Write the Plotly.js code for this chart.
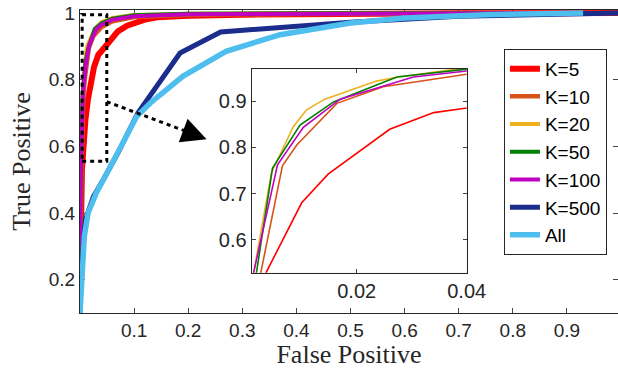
<!DOCTYPE html>
<html><head><meta charset="utf-8">
<script src="https://cdn.plot.ly/plotly-3.0.1.min.js"></script>
<style>html,body{margin:0;padding:0;background:#fff}#c{width:618px;height:369px}</style>
</head><body><div id="c"></div>
<script>
// Series data (False Positive rate, True Positive rate)
const names = ["K=5","K=10","K=20","K=50","K=100","K=500","All"];
const colors = ["#FF0000","#D95319","#EDB120","#008000","#C000C0","#1B2D8C","#4DBEEE"];

const fpK5   = [0, 0.0005, 0.0015, 0.0036, 0.010, 0.0148, 0.026, 0.034, 0.040, 0.052, 0.07, 0.087, 0.12, 0.143, 0.2, 0.3, 0.5, 0.7, 1];
const tpK5   = [0.19, 0.30, 0.42, 0.531, 0.680, 0.742, 0.839, 0.875, 0.886, 0.912, 0.945, 0.962, 0.980, 0.987, 0.992, 0.995, 0.998, 0.999, 1];
const fpK10  = [0, 0.001, 0.0026, 0.0065, 0.0091, 0.0164, 0.0248, 0.04, 0.06, 0.1, 0.2, 0.4, 0.7, 1];
const tpK10  = [0.27, 0.42, 0.531, 0.76, 0.805, 0.895, 0.931, 0.958, 0.975, 0.988, 0.994, 0.997, 0.999, 1];
const fpK20  = [0, 0.0005, 0.0013, 0.0045, 0.0085, 0.0109, 0.0142, 0.0236, 0.0276, 0.04, 0.06, 0.1, 0.2, 0.5, 1];
const tpK20  = [0.30, 0.42, 0.531, 0.745, 0.845, 0.881, 0.904, 0.943, 0.952, 0.972, 0.985, 0.994, 0.998, 0.999, 1];
const fpK50  = [0, 0.0007, 0.0018, 0.0047, 0.0097, 0.0158, 0.0273, 0.04, 0.06, 0.1, 0.2, 0.5, 1];
const tpK50  = [0.30, 0.43, 0.531, 0.755, 0.848, 0.898, 0.952, 0.969, 0.983, 0.993, 0.998, 0.999, 1];
const fpK100 = [0, 0.0005, 0.0013, 0.0056, 0.0103, 0.017, 0.0303, 0.04, 0.06, 0.1, 0.2, 0.5, 1];
const tpK100 = [0.30, 0.42, 0.531, 0.762, 0.843, 0.904, 0.952, 0.965, 0.98, 0.99, 0.996, 0.998, 1];
const fpK500 = [0, 0.003, 0.01, 0.025, 0.043, 0.07, 0.107, 0.185, 0.26, 0.5, 0.7, 0.93, 1];
const tpK500 = [0.10, 0.25, 0.38, 0.45, 0.50, 0.58, 0.70, 0.88, 0.943, 0.972, 0.99, 1, 1];
const fpAll  = [0, 0.004, 0.008, 0.015, 0.03, 0.05, 0.075, 0.105, 0.13, 0.19, 0.27, 0.37, 0.5, 0.6, 0.75, 0.93];
const tpAll  = [0.10, 0.22, 0.33, 0.40, 0.46, 0.52, 0.60, 0.69, 0.73, 0.81, 0.885, 0.935, 0.97, 0.985, 0.995, 1];

const fps = [fpK5, fpK10, fpK20, fpK50, fpK100, fpK500, fpAll];
const tps = [tpK5, tpK10, tpK20, tpK50, tpK100, tpK500, tpAll];
const mainWidths = [6, 4.5, 4, 4, 4, 5, 5.5];
const insetCount = 5; // inset shows K=5..K=100

const xTicks = [0.1,0.2,0.3,0.4,0.5,0.6,0.7,0.8,0.9];
const yTicks = [0.2,0.4,0.6,0.8,1];
const yTickText = ["0.2","0.4","0.6","0.8","1"];
const insetXTicks = [0.02, 0.04];
const insetYTicks = [0.6, 0.7, 0.8, 0.9];

const traces = [];
for (let i = 0; i < names.length; i++) {
  traces.push({x: fps[i], y: tps[i], name: names[i], type: 'scatter', mode: 'lines',
    line: {color: colors[i], width: mainWidths[i]}, xaxis: 'x', yaxis: 'y'});
}
for (let i = 0; i < insetCount; i++) {
  traces.push({x: fps[i], y: tps[i], name: names[i], type: 'scatter', mode: 'lines', showlegend: false,
    line: {color: colors[i], width: 1.6}, xaxis: 'x2', yaxis: 'y2'});
}

const axCol = '#262626';
const layout = {
  width: 618, height: 369,
  margin: {l: 80, r: 0, t: 10, b: 56},
  paper_bgcolor: '#fff', plot_bgcolor: '#fff',
  font: {family: 'Liberation Sans, Arial, sans-serif', color: axCol, size: 19},
  showlegend: true,
  legend: {x: 0.788, y: 0.872, xanchor: 'left', yanchor: 'top', bgcolor: '#fff',
    bordercolor: axCol, borderwidth: 1, font: {size: 19, color: '#000'}, tracegroupgap: 0},
  xaxis: {domain: [0, 1], range: [0, 0.9945], tickvals: xTicks, ticks: 'inside', ticklen: 5,
    showline: true, linecolor: axCol, mirror: 'ticks', showgrid: false, zeroline: false,
    tickfont: {size: 19}, layer: 'below traces',
    title: {text: 'False Positive', font: {family: 'Liberation Serif, Times New Roman, serif', size: 26, color: axCol}, standoff: 4}},
  yaxis: {domain: [0, 1], range: [0.1, 1.009], tickvals: yTicks, ticktext: yTickText, ticks: 'inside', ticklen: 5,
    showline: true, linecolor: axCol, mirror: 'ticks', showgrid: false, zeroline: false,
    tickfont: {size: 19}, layer: 'below traces',
    title: {text: 'True Positive', font: {family: 'Liberation Serif, Times New Roman, serif', size: 26, color: axCol}, standoff: 10}},
  xaxis2: {domain: [0.319, 0.7188], range: [0.0009, 0.04], anchor: 'y2', tickvals: insetXTicks, ticktext: ['0.02','0.04'],
    ticks: 'inside', ticklen: 4, showline: true, linecolor: axCol, mirror: 'ticks', showgrid: false, zeroline: false,
    tickfont: {size: 20}},
  yaxis2: {domain: [0.133, 0.805], range: [0.529, 0.969], anchor: 'x2', tickvals: insetYTicks,
    ticks: 'inside', ticklen: 4, showline: true, linecolor: axCol, mirror: 'ticks', showgrid: false, zeroline: false,
    tickfont: {size: 20}},
  shapes: [
    {type: 'rect', xref: 'x2 domain', yref: 'y2 domain', x0: 0, x1: 1, y0: 0, y1: 1,
      fillcolor: '#DCDCDC', line: {width: 0}, layer: 'below'},
    {type: 'rect', xref: 'x', yref: 'y', x0: 0.004, x1: 0.0495, y0: 0.555, y1: 0.995,
      line: {color: '#000', width: 3, dash: '4px,4px'}},
    {type: 'line', xref: 'x', yref: 'y', x0: 0.0495, y0: 0.734, x1: 0.196, y1: 0.645,
      line: {color: '#000', width: 3, dash: '4px,4px'}}
  ],
  annotations: [
    {x: 0.234, y: 0.621, xref: 'x', yref: 'y', ax: -24, ay: -9, text: '', showarrow: true,
      arrowhead: 2, arrowsize: 2, arrowwidth: 2.5, arrowcolor: '#000', standoff: 0}
  ]
};

Plotly.newPlot('c', traces, layout, {displayModeBar: false, staticPlot: true});
</script>
</body></html>
